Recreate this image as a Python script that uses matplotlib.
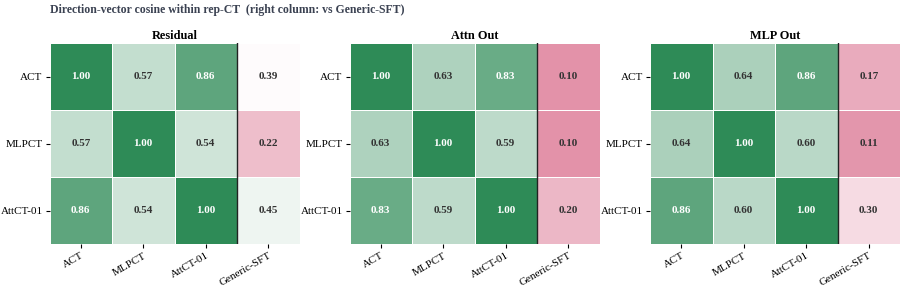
import numpy as np
import matplotlib
matplotlib.use("Agg")
import matplotlib.pyplot as plt
from matplotlib.colors import LinearSegmentedColormap, TwoSlopeNorm

plt.rcParams['font.family'] = ['Liberation Serif', 'DejaVu Serif']

rows = ["ACT", "MLPCT", "AttCT-01"]
cols = ["ACT", "MLPCT", "AttCT-01", "Generic-SFT"]
panels = ["Residual", "Attn Out", "MLP Out"]

residual = [[1.00, 0.57, 0.86, 0.39],
            [0.57, 1.00, 0.54, 0.22],
            [0.86, 0.54, 1.00, 0.45]]
attn_out = [[1.00, 0.63, 0.83, 0.10],
            [0.63, 1.00, 0.59, 0.10],
            [0.83, 0.59, 1.00, 0.20]]
mlp_out = [[1.00, 0.64, 0.86, 0.17],
           [0.64, 1.00, 0.60, 0.11],
           [0.86, 0.60, 1.00, 0.30]]
data = [residual, attn_out, mlp_out]

cmap = LinearSegmentedColormap.from_list("pg", ["#d96e8c", "#ffffff", "#2e8b57"])
norm = TwoSlopeNorm(vmin=0.0, vcenter=0.4, vmax=1.0)

fig = plt.figure(figsize=(9.06, 2.87), dpi=100)
lefts = [49.5 / 906, 349.5 / 906, 650 / 906]
for k, (name, mat) in enumerate(zip(panels, data)):
    ax = fig.add_axes([lefts[k], 43 / 287, 250 / 906, 201 / 287])
    M = np.array(mat)
    ax.pcolormesh(np.arange(M.shape[1] + 1), np.arange(M.shape[0] + 1), M,
                  cmap=cmap, norm=norm, edgecolors="white", linewidth=0.7)
    ax.set_xlim(0, M.shape[1])
    ax.set_ylim(M.shape[0], 0)
    for i in range(M.shape[0]):
        for j in range(M.shape[1]):
            v = M[i, j]
            ax.text(j + 0.5, i + 0.5, f"{v:.2f}", ha="center", va="center",
                    fontsize=8, fontweight="bold",
                    color="white" if v >= 0.75 else "#333333")
    ax.axvline(3, color="#222222", lw=1.0)
    ax.set_xticks(np.arange(M.shape[1]) + 0.5)
    ax.set_xticklabels(cols, rotation=30, ha="right", rotation_mode="anchor", fontsize=8)
    ax.set_yticks(np.arange(M.shape[0]) + 0.5)
    ax.set_yticklabels(rows, fontsize=8)
    ax.tick_params(length=3, width=0.8, pad=2)
    for s in ax.spines.values():
        s.set_visible(False)
    ax.set_title(name, fontsize=8.8, fontweight="bold", pad=3)

fig.text(49.5 / 906, 1 - 10 / 287, "Direction-vector cosine within rep-CT  (right column: vs Generic-SFT)",
         fontsize=8.5, fontweight="bold", color="#3b4252", ha="left", va="center")
fig.savefig("out.png", dpi=100)
